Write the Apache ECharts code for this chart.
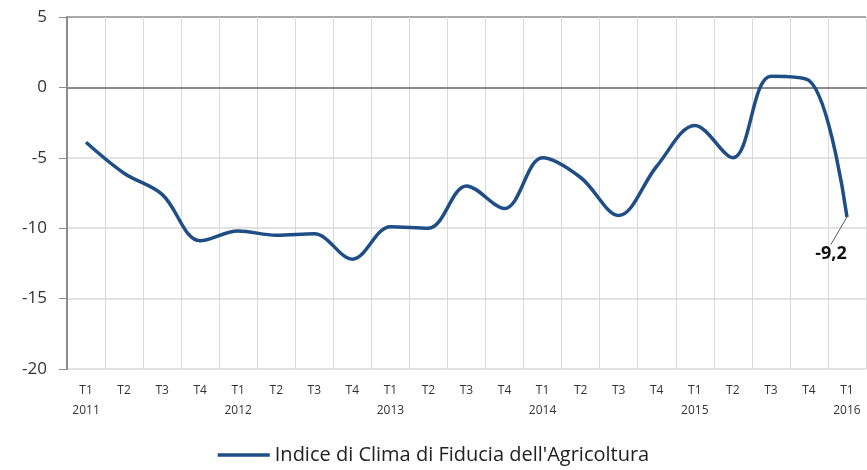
<!DOCTYPE html>
<html>
<head>
<meta charset="utf-8">
<script src="https://cdn.jsdelivr.net/npm/echarts@6/dist/echarts.min.js"></script>
<style>
  html, body { margin: 0; padding: 0; background: #fff; }
  #chart { width: 867px; height: 470px; }
</style>
</head>
<body>
<div id="chart"></div>
<script>
// trimestri e anni
var quarters = ['T1','T2','T3','T4','T1','T2','T3','T4','T1','T2','T3','T4','T1','T2','T3','T4','T1','T2','T3','T4','T1'];
var years    = ['2011','','','','2012','','','','2013','','','','2014','','','','2015','','','','2016'];
// Indice di Clima di Fiducia dell'Agricoltura
var fiducia  = [-3.9, -6.1, -7.6, -10.9, -10.2, -10.5, -10.4, -12.2, -9.9, -10.0, -7.0, -8.6, -5.0, -6.4, -9.1, -5.6, -2.7, -5.0, 0.8, 0.5, -9.2];
var seriesName = "Indice di Clima di Fiducia dell'Agricoltura";

var categories = quarters.map(function (q, i) { return years[i] ? q + '\n' + years[i] : q; });
var last = fiducia.length - 1;

var myChart = echarts.init(document.getElementById('chart'));
var option = {
  animation: false,
  textStyle: { fontFamily: 'Open Sans' },
  grid: { left: 67, right: 1, top: 17, bottom: 101 },
  legend: {
    bottom: 0,
    left: 'center',
    itemWidth: 52,
    itemHeight: 10,
    itemGap: 6,
    textStyle: { fontSize: 20, color: '#222' },
    data: [{ name: seriesName, icon: 'path://M0,3.5L52,3.5L52,7L0,7Z' }]
  },
  xAxis: {
    type: 'category',
    data: categories,
    axisLine: { lineStyle: { color: '#8c8c8c', width: 2 } },
    axisTick: { show: false },
    axisLabel: { interval: 0, fontSize: 12, color: '#333', lineHeight: 20, margin: 12 },
    splitLine: { show: true, lineStyle: { color: '#d9d9d9', width: 1 } }
  },
  yAxis: {
    type: 'value',
    min: -20,
    max: 5,
    interval: 5,
    axisLine: { show: true, lineStyle: { color: '#8c8c8c', width: 2 } },
    axisTick: { show: true, length: 8, lineStyle: { color: '#8c8c8c' } },
    axisLabel: { fontSize: 17, color: '#333', margin: 20 },
    splitLine: { lineStyle: { color: ['#d9d9d9', '#d9d9d9', '#d9d9d9', '#d9d9d9', '#8c8c8c', '#8c8c8c'], width: 1.5 } }
  },
  series: [{
    name: seriesName,
    type: 'line',
    data: fiducia.map(function (v, i) {
      if (i === last) {
        return {
          value: v,
          symbol: 'circle',
          symbolSize: 1,
          label: {
            show: true,
            position: 'bottom',
            formatter: function (p) { return String(p.value).replace('.', ','); },
            fontSize: 18,
            fontWeight: 'bold',
            color: '#111'
          },
          labelLine: { show: true, lineStyle: { color: '#555', width: 1 } }
        };
      }
      return { value: v, symbol: 'none' };
    }),
    smooth: 0.35,
    showSymbol: true,
    lineStyle: { color: '#1f4e86', width: 3.5 },
    itemStyle: { color: '#1f4e86' },
    labelLayout: function (params) {
      if (params.dataIndex !== last) return {};
      return { dx: -16, dy: 22 };
    },
    labelLine: { show: true, lineStyle: { color: '#555', width: 1 } }
  }]
};
myChart.setOption(option);
</script>
</body>
</html>
